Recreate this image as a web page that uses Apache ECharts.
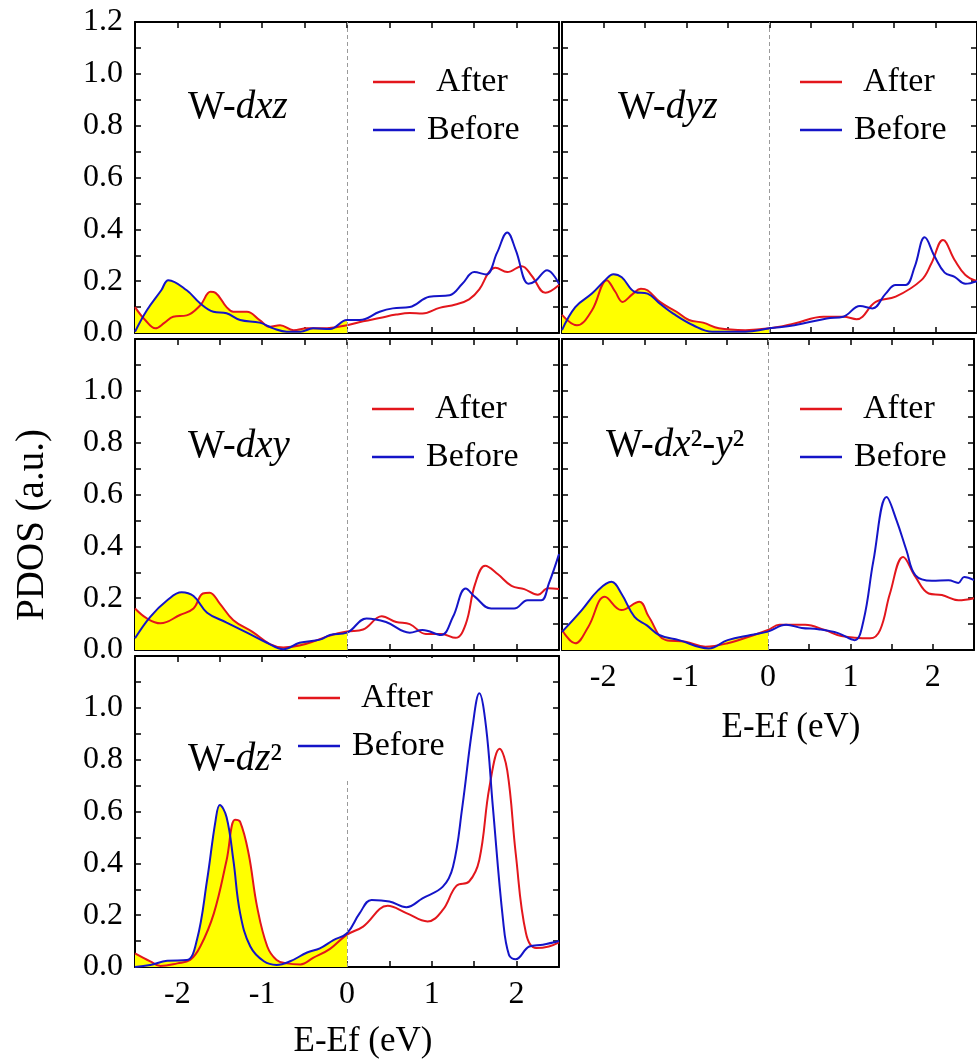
<!DOCTYPE html>
<html><head><meta charset="utf-8">
<script src="https://cdn.jsdelivr.net/npm/echarts@6/dist/echarts.min.js"></script>
<style>html,body{margin:0;padding:0;background:#fff}#c{width:977px;height:1063px}</style>
</head><body><div id="c"></div>
<script>
// ---------- data (x = E-Ef in eV, y = PDOS) ----------
const xTickLabels = [-2, -1, 0, 1, 2];
const yTickLabelsTop = [0, 0.2, 0.4, 0.6, 0.8, 1.0, 1.2];
const yTickLabelsLower = [0, 0.2, 0.4, 0.6, 0.8, 1.0];
const seriesNames = ['After', 'Before'];

const dxzAfter = [[-2.5,0.10],[-2.38,0.05],[-2.26,0.018],[-2.15,0.04],[-2.05,0.063],[-1.89,0.068],[-1.73,0.107],[-1.61,0.159],[-1.55,0.155],[-1.42,0.10],[-1.34,0.082],[-1.18,0.082],[-1.03,0.05],[-0.91,0.024],[-0.79,0.03],[-0.63,0.011],[-0.47,0.018],[-0.28,0.018],[0,0.03],[0.19,0.045],[0.385,0.058],[0.58,0.071],[0.74,0.077],[0.89,0.075],[1.09,0.097],[1.28,0.11],[1.44,0.13],[1.56,0.168],[1.67,0.233],[1.75,0.252],[1.89,0.235],[2.06,0.258],[2.18,0.22],[2.34,0.155],[2.5,0.185]];
const dxzBefore = [[-2.5,0.005],[-2.36,0.088],[-2.19,0.165],[-2.106,0.204],[-1.89,0.165],[-1.73,0.114],[-1.575,0.082],[-1.42,0.076],[-1.26,0.05],[-1.03,0.04],[-0.87,0.018],[-0.71,0.005],[-0.55,0.005],[-0.40,0.018],[-0.2,0.015],[0,0.05],[0.15,0.05],[0.385,0.082],[0.54,0.095],[0.74,0.10],[0.97,0.14],[1.21,0.146],[1.36,0.19],[1.5,0.235],[1.64,0.226],[1.77,0.31],[1.89,0.388],[1.99,0.32],[2.14,0.19],[2.22,0.2],[2.36,0.242],[2.5,0.19]];

const dyzAfter = [[-2.5,0.07],[-2.32,0.03],[-2.14,0.087],[-1.96,0.204],[-1.86,0.16],[-1.77,0.12],[-1.65,0.15],[-1.55,0.171],[-1.47,0.165],[-1.32,0.12],[-1.12,0.082],[-0.97,0.05],[-0.8,0.04],[-0.61,0.018],[-0.29,0.011],[0,0.018],[0.30,0.037],[0.65,0.063],[0.89,0.063],[1.05,0.053],[1.28,0.12],[1.52,0.14],[1.83,0.204],[1.95,0.268],[2.09,0.359],[2.23,0.282],[2.36,0.224],[2.5,0.2]];
const dyzBefore = [[-2.5,0.011],[-2.34,0.10],[-2.14,0.152],[-1.98,0.204],[-1.88,0.227],[-1.78,0.215],[-1.62,0.158],[-1.47,0.152],[-1.32,0.113],[-1.16,0.075],[-0.92,0.03],[-0.69,0.005],[-0.29,0.005],[0,0.018],[0.30,0.03],[0.69,0.056],[0.89,0.063],[1.09,0.104],[1.24,0.095],[1.40,0.152],[1.52,0.185],[1.64,0.185],[1.75,0.256],[1.87,0.369],[1.99,0.295],[2.11,0.233],[2.23,0.217],[2.36,0.19],[2.5,0.2]];

const dxyAfter = [[-2.5,0.16],[-2.36,0.122],[-2.2,0.103],[-1.97,0.135],[-1.81,0.16],[-1.70,0.218],[-1.62,0.221],[-1.50,0.179],[-1.34,0.115],[-1.11,0.069],[-0.91,0.023],[-0.75,0.01],[-0.56,0.017],[-0.36,0.037],[-0.2,0.056],[0,0.071],[0.19,0.079],[0.41,0.13],[0.58,0.108],[0.74,0.10],[0.93,0.062],[1.11,0.062],[1.28,0.047],[1.4,0.10],[1.51,0.254],[1.63,0.325],[1.78,0.292],[1.94,0.247],[2.09,0.235],[2.25,0.213],[2.37,0.238],[2.5,0.235]];
const dxyBefore = [[-2.5,0.045],[-2.32,0.128],[-2.12,0.192],[-1.95,0.223],[-1.81,0.208],[-1.65,0.144],[-1.42,0.106],[-1.18,0.067],[-0.945,0.028],[-0.75,0.003],[-0.56,0.028],[-0.32,0.04],[-0.2,0.058],[0,0.067],[0.23,0.122],[0.46,0.108],[0.74,0.067],[0.89,0.077],[1.11,0.058],[1.25,0.128],[1.4,0.237],[1.51,0.205],[1.70,0.16],[1.97,0.16],[2.13,0.192],[2.29,0.192],[2.38,0.256],[2.5,0.37]];

const dx2y2After = [[-2.5,0.077],[-2.34,0.026],[-2.18,0.09],[-1.98,0.205],[-1.78,0.154],[-1.56,0.186],[-1.45,0.13],[-1.24,0.038],[-1.0,0.032],[-0.76,0.013],[-0.49,0.026],[-0.17,0.058],[0,0.077],[0.14,0.097],[0.45,0.097],[0.69,0.077],[0.89,0.054],[1.24,0.045],[1.36,0.077],[1.48,0.218],[1.64,0.359],[1.79,0.282],[1.95,0.218],[2.11,0.212],[2.31,0.192],[2.5,0.2]];
const dx2y2Before = [[-2.5,0.07],[-2.26,0.154],[-2.06,0.231],[-1.90,0.263],[-1.78,0.218],[-1.62,0.128],[-1.47,0.095],[-1.32,0.058],[-1.08,0.038],[-0.72,0.006],[-0.49,0.038],[-0.21,0.058],[0,0.071],[0.22,0.097],[0.41,0.085],[0.61,0.08],[0.85,0.065],[1.05,0.038],[1.16,0.115],[1.28,0.346],[1.44,0.59],[1.56,0.5],[1.68,0.385],[1.79,0.288],[1.99,0.267],[2.19,0.269],[2.31,0.259],[2.38,0.282],[2.5,0.27]];

const dz2After = [[-2.5,0.053],[-2.32,0.022],[-2.2,0.004],[-2.0,0.014],[-1.85,0.027],[-1.73,0.079],[-1.57,0.207],[-1.42,0.412],[-1.32,0.568],[-1.26,0.56],[-1.16,0.437],[-1.06,0.232],[-0.94,0.079],[-0.83,0.027],[-0.71,0.014],[-0.55,0.01],[-0.40,0.035],[-0.2,0.07],[0,0.125],[0.19,0.156],[0.48,0.236],[0.70,0.208],[0.95,0.176],[1.13,0.22],[1.29,0.313],[1.44,0.33],[1.56,0.413],[1.68,0.695],[1.80,0.842],[1.89,0.758],[1.99,0.437],[2.11,0.131],[2.23,0.073],[2.38,0.079],[2.5,0.095]];
const dz2Before = [[-2.5,0.0],[-2.32,0.008],[-2.12,0.024],[-1.89,0.027],[-1.77,0.104],[-1.65,0.335],[-1.55,0.565],[-1.50,0.625],[-1.42,0.578],[-1.34,0.412],[-1.26,0.207],[-1.14,0.079],[-0.98,0.022],[-0.83,0.008],[-0.67,0.022],[-0.47,0.056],[-0.32,0.072],[-0.16,0.104],[0,0.13],[0.15,0.208],[0.29,0.259],[0.50,0.253],[0.70,0.231],[0.89,0.265],[1.13,0.31],[1.25,0.387],[1.36,0.618],[1.48,0.926],[1.56,1.056],[1.64,0.926],[1.72,0.618],[1.84,0.182],[1.91,0.047],[1.99,0.03],[2.15,0.079],[2.31,0.086],[2.5,0.1]];

const panelTitles = [
  '{n|W-}{i|dxz}',
  '{n|W-}{i|dyz}',
  '{n|W-}{i|dxy}',
  '{n|W-}{i|dx}{n|²-}{i|y}{n|²}',
  '{n|W-}{i|dz}{n|²}'
];
const yAxisTitle = 'PDOS (a.u.)';
const xAxisTitle = 'E-Ef (eV)';

// ---------- layout / style ----------
const FONT = '"Liberation Serif", "Times New Roman", serif';
const RED = '#e3161c';
const BLUE = '#1414c8';
const YELLOW = '#ffff00';

const panels = [
  { data: [dxzAfter, dxzBefore],   grid: {left:135, top:22,  width:424, height:311}, xLabels:false, yLabels: yTickLabelsTop,   legend:{left:363, top:42},  title:{x:188, y:108} },
  { data: [dyzAfter, dyzBefore],   grid: {left:562, top:22,  width:425, height:311}, xLabels:false, yLabels: null,             legend:{left:790, top:42},  title:{x:618, y:108} },
  { data: [dxyAfter, dxyBefore],   grid: {left:135, top:339, width:424, height:311}, xLabels:false, yLabels: yTickLabelsLower, legend:{left:362, top:369}, title:{x:188, y:447} },
  { data: [dx2y2After, dx2y2Before], grid: {left:562, top:339, width:425, height:311}, xLabels:true, yLabels: null,           legend:{left:790, top:369}, title:{x:606, y:446} },
  { data: [dz2After, dz2Before],   grid: {left:135, top:656, width:424, height:311}, xLabels:true,  yLabels: yTickLabelsLower, legend:{left:288, top:658}, title:{x:188, y:760} }
];

function xAxisDef(i, pos, showLabels) {
  return {
    type: 'value', gridIndex: i, position: pos, min: -2.5, max: 2.5, interval: 0.5,
    axisLine: { show: true, onZero: false, lineStyle: { color: '#000', width: 2 } },
    axisTick: { show: true, inside: true, length: 6, lineStyle: { color: '#000', width: 1.5 } },
    axisLabel: {
      show: showLabels, margin: 12, color: '#000', fontFamily: FONT, fontSize: 32,
      formatter: v => { const r = Math.round(v * 2) / 2; return xTickLabels.includes(r) ? String(r) : ''; }
    },
    splitLine: { show: false }
  };
}
function yAxisDef(i, pos, labels) {
  return {
    type: 'value', gridIndex: i, position: pos, min: 0, max: 1.2, interval: 0.1,
    axisLine: { show: true, onZero: false, lineStyle: { color: '#000', width: 2 } },
    axisTick: { show: true, inside: true, length: 6, lineStyle: { color: '#000', width: 1.5 } },
    axisLabel: {
      show: !!labels, margin: 12, color: '#000', fontFamily: FONT, fontSize: 32,
      formatter: v => { const r = Math.round(v * 10) / 10; return labels && labels.includes(r) ? r.toFixed(1) : ''; }
    },
    splitLine: { show: false }
  };
}
function fillGradient(d) {
  const xmin = d[0][0], xmax = d[d.length - 1][0];
  const p = (0 - xmin) / (xmax - xmin);
  return new echarts.graphic.LinearGradient(0, 0, 1, 0, [
    { offset: 0, color: YELLOW }, { offset: p, color: YELLOW },
    { offset: p, color: 'rgba(255,255,0,0)' }, { offset: 1, color: 'rgba(255,255,0,0)' }
  ]);
}

const grid = [], xAxis = [], yAxis = [], series = [], legend = [], graphic = [];
const SMOOTH = 0.4;
panels.forEach((p, i) => {
  grid.push(Object.assign({ containLabel: false }, p.grid));
  xAxis.push(xAxisDef(i, 'bottom', p.xLabels));
  xAxis.push(xAxisDef(i, 'top', false));
  yAxis.push(yAxisDef(i, 'left', p.yLabels));
  yAxis.push(yAxisDef(i, 'right', null));
  const colors = [RED, BLUE];
  // yellow fill under the curves for E < Ef
  p.data.forEach((d, k) => {
    series.push({
      type: 'line', name: 'fill' + i + '_' + k, xAxisIndex: 2 * i, yAxisIndex: 2 * i,
      data: d, smooth: SMOOTH, symbol: 'none', silent: true, z: 1,
      lineStyle: { width: 0, opacity: 0 },
      areaStyle: { color: fillGradient(d), opacity: 1 },
      markLine: k === 0 ? {
        silent: true, symbol: 'none', label: { show: false },
        lineStyle: { color: '#9a9a9a', width: 1, type: [4, 3] },
        data: [{ xAxis: 0 }]
      } : undefined
    });
  });
  p.data.forEach((d, k) => {
    series.push({
      type: 'line', name: seriesNames[k], xAxisIndex: 2 * i, yAxisIndex: 2 * i,
      data: d, smooth: SMOOTH, symbol: 'none', z: 3,
      itemStyle: { color: colors[k] },
      lineStyle: { color: colors[k], width: 2 }
    });
  });
  legend.push({
    data: seriesNames, orient: 'vertical', left: p.legend.left, top: p.legend.top,
    icon: 'rect', itemWidth: 42, itemHeight: 2.5, itemGap: 14, selectedMode: false,
    padding: [23, 10, 17, 10], backgroundColor: '#fff', z: 6,
    formatter: name => (name === 'After' ? '{a|' : '{b|') + name + '}',
    textStyle: {
      fontFamily: FONT, fontSize: 34, color: '#000', lineHeight: 34,
      rich: {
        a: { fontFamily: FONT, fontSize: 34, color: '#000', lineHeight: 34, padding: [0, 0, 0, 16] },
        b: { fontFamily: FONT, fontSize: 34, color: '#000', lineHeight: 34, padding: [0, 0, 0, 7] }
      }
    }
  });
  graphic.push({
    type: 'text', x: p.title.x, y: p.title.y, z: 10,
    style: {
      text: panelTitles[i], verticalAlign: 'middle', align: 'left',
      rich: {
        n: { fontFamily: FONT, fontSize: 39, fill: '#000', fontStyle: 'normal' },
        i: { fontFamily: FONT, fontSize: 39, fill: '#000', fontStyle: 'italic' }
      }
    }
  });
});

graphic.push({
  type: 'text', x: 33, y: 525, rotation: Math.PI / 2, z: 10,
  style: { text: yAxisTitle, fontFamily: FONT, fontSize: 39, fill: '#000', align: 'center', verticalAlign: 'middle' }
});
graphic.push({
  type: 'text', x: 363, y: 1042, z: 10,
  style: { text: xAxisTitle, fontFamily: FONT, fontSize: 35, fill: '#000', align: 'center', verticalAlign: 'middle' }
});
graphic.push({
  type: 'text', x: 791, y: 728, z: 10,
  style: { text: xAxisTitle, fontFamily: FONT, fontSize: 35, fill: '#000', align: 'center', verticalAlign: 'middle' }
});

const chart = echarts.init(document.getElementById('c'), null, { renderer: 'canvas' });
chart.setOption({
  animation: false,
  backgroundColor: '#fff',
  grid, xAxis, yAxis, series, legend, graphic
});
</script>
</body></html>
